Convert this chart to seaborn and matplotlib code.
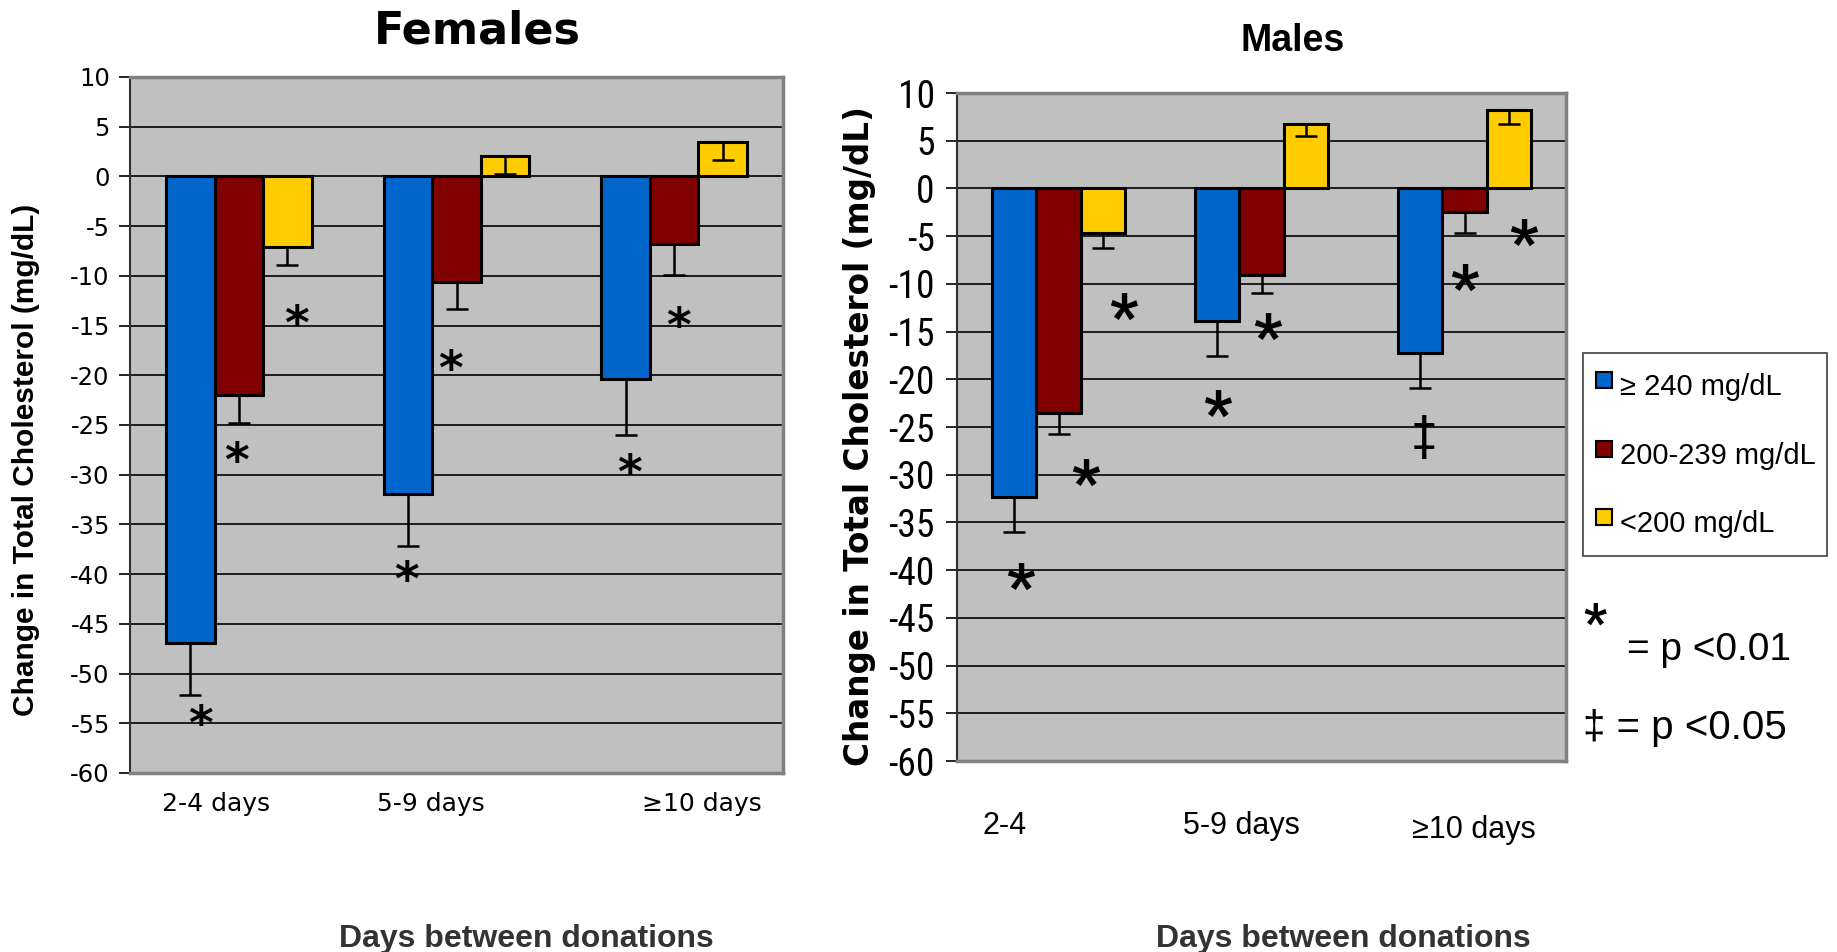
import matplotlib
matplotlib.use("Agg")
import matplotlib.pyplot as plt
from matplotlib import font_manager
from matplotlib.font_manager import FontProperties
from matplotlib.lines import Line2D
from matplotlib.textpath import TextPath
from matplotlib.transforms import ScaledTranslation
import pandas as pd
import seaborn as sns

groups = ["2-4 days", "5-9 days", "≥10 days"]
male_group_labels = ["2-4", "5-9 days", "≥10 days"]
levels = ["≥ 240 mg/dL", "200-239 mg/dL", "<200 mg/dL"]
colors = ["#0066CC", "#800000", "#FFCC00"]

## Females: mean change per cholesterol level, per donation interval
fem_240 = [-46.9, -31.9, -20.4]
fem_200 = [-22.0, -10.6, -6.8]
fem_lt200 = [-7.1, 2.1, 3.5]
fem_240_err = [5.3, 5.3, 5.6]
fem_200_err = [2.8, 2.7, 3.1]
fem_lt200_err = [1.8, 1.9, 1.8]

## Males
male_240 = [-32.3, -13.9, -17.2]
male_200 = [-23.5, -9.1, -2.5]
male_lt200 = [-4.7, 6.7, 8.2]
male_240_err = [3.7, 3.7, 3.7]
male_200_err = [2.2, 1.9, 2.2]
male_lt200_err = [1.5, 1.2, 1.5]

## significance marks (group, level, y, symbol)
fem_mark_group = [0, 0, 0, 1, 1, 2, 2]
fem_mark_level = [0, 1, 2, 0, 1, 0, 1]
fem_mark_y = [-54.2, -27.7, -13.9, -39.7, -18.4, -28.9, -14.1]
fem_mark_sym = ["*"] * 7
fem_mark_dx = [0.046, -0.01, 0.04, -0.008, -0.027, 0.02, 0.02]

male_mark_group = [0, 0, 0, 1, 1, 2, 2, 2]
male_mark_level = [0, 1, 2, 0, 1, 0, 1, 2]
male_mark_y = [-40.7, -29.8, -12.4, -22.6, -14.5, -26.0, -9.4, -4.6]
male_mark_sym = ["*", "*", "*", "*", "*", "‡", "*", "*"]
male_mark_dx = [0.03, 0.13, 0.1, 0.0, 0.03, 0.02, 0.0, 0.07]

yticks = list(range(10, -61, -5))

plt.rcParams["axes.unicode_minus"] = False
ARIAL = "Liberation Sans"
DEJAVU = "DejaVu Sans"


def pick_condensed(bold=False):
    ok_w = (700, "bold") if bold else (400, "normal", "regular", "book")
    found = {}
    for f in font_manager.fontManager.ttflist:
        if f.style != "normal" or f.weight not in ok_w:
            continue
        if f.stretch in ("condensed", "semi-condensed") or "Narrow" in f.name or "Condensed" in f.name:
            found.setdefault(f.name, f.fname)
    for key in ["Liberation Sans Narrow", "Arial Narrow", "Roboto Condensed", "DejaVu Sans",
                "DejaVu Sans Condensed", "Noto Sans", "Noto Sans Condensed", "Open Sans"]:
        if key in found:
            return found[key]
    return next(iter(found.values()), None)


cond_reg = pick_condensed()
cond_bold = pick_condensed(bold=True)
rtick_fp = FontProperties(fname=cond_reg, size=27) if cond_reg else FontProperties(family=ARIAL, size=22)
star_fp_left = FontProperties(family=DEJAVU, weight="bold")
star_fp_right = FontProperties(fname=cond_bold) if cond_bold else FontProperties(family=ARIAL, weight="bold")
dagger_fp = FontProperties(fname=cond_reg) if cond_reg else FontProperties(family=ARIAL)


def long_table(v240, v200, vlt, e240, e200, elt):
    rows = []
    for lev, vals, errs in zip(levels, [v240, v200, vlt], [e240, e200, elt]):
        for g, v, e in zip(groups, vals, errs):
            rows.append({"group": g, "level": lev, "value": v, "err": e})
    return pd.DataFrame(rows)


fem = long_table(fem_240, fem_200, fem_lt200, fem_240_err, fem_200_err, fem_lt200_err)
male = long_table(male_240, male_200, male_lt200, male_240_err, male_200_err, male_lt200_err)

fig = plt.figure(figsize=(18.37, 9.52), dpi=100)
axL = fig.add_axes([130 / 1837, 1 - 773 / 952, 653 / 1837, 696 / 952])
axR = fig.add_axes([957 / 1837, 1 - 761 / 952, 609 / 1837, 668 / 952])


def draw_panel(ax, df, width):
    sns.barplot(data=df, x="group", y="value", hue="level", order=groups, hue_order=levels,
                palette=colors, saturation=1, edgecolor="black", linewidth=2.2, width=width,
                errorbar=None, legend=False, zorder=3, ax=ax)
    centers = {}
    bar_sets = list(ax.containers)
    for i, cont in enumerate(bar_sets):
        for j, bar in enumerate(cont):
            x = bar.get_x() + bar.get_width() / 2
            y = bar.get_y() + bar.get_height()
            centers[(j, i)] = x
            e = df[(df["level"] == levels[i]) & (df["group"] == groups[j])]["err"].iloc[0]
            ax.errorbar(x, y, yerr=[[e], [0]], fmt="none", ecolor="black", elinewidth=1.8,
                        capsize=8, capthick=1.8, zorder=4)
    ax.set_facecolor("#C0C0C0")
    ax.set_ylim(-60, 10)
    ax.set_xlim(-0.5, 2.5)
    ax.set_yticks(yticks)
    ax.yaxis.grid(True, color="black", linewidth=1.2, zorder=0)
    ax.set_axisbelow(True)
    for s in ["top", "right", "bottom"]:
        ax.spines[s].set_color("#808080")
        ax.spines[s].set_linewidth(2.5)
    ax.spines["left"].set_color("#303030")
    ax.spines["left"].set_linewidth(1.5)
    ax.tick_params(axis="y", length=8, width=1.2, color="black")
    ax.tick_params(axis="x", length=0)
    return centers


def mark(ax, sym, xy, fp_base, ink_px, coords="data"):
    # size the glyph so its ink is ink_px tall, and centre the ink on xy
    bb = TextPath((0, 0), sym, size=1, prop=fp_base).get_extents()
    fs = ink_px * 0.72 / bb.height
    fp = fp_base.copy()
    fp.set_size(fs)
    cy = (bb.y0 + bb.y1) / 2 * fs
    ax.annotate(sym, xy, xycoords=coords, xytext=(0, -cy), textcoords="offset points",
                ha="center", va="baseline", fontproperties=fp, zorder=6)


def shift_labels(ax, offsets_px):
    for lab, (dx, dy) in zip(ax.get_xticklabels(), offsets_px):
        lab.set_transform(lab.get_transform() + ScaledTranslation(dx / 100, -dy / 100, fig.dpi_scale_trans))


## Females
cL = draw_panel(axL, fem, 0.67)
for g, l, y, s, dx in zip(fem_mark_group, fem_mark_level, fem_mark_y, fem_mark_sym, fem_mark_dx):
    mark(axL, s, (cL[(g, l)] + dx, y), star_fp_left, 22)
axL.set_xticks(range(3))
axL.set_xticklabels(groups, family=DEJAVU, fontsize=18)
axL.tick_params(axis="x", pad=14)
axL.tick_params(axis="y", pad=6.5)
for t in axL.get_yticklabels():
    t.set_family(DEJAVU)
    t.set_fontsize(17.5)
shift_labels(axL, [(-23, 0), (-26, 0), (28, 0)])
axL.set_title("Females", family=DEJAVU, fontweight="bold", fontsize=32, y=(773 - 39) / 696, va="center")
axL.title.set_x((477 - 130) / 653)
axL.set_ylabel("Change in Total Cholesterol (mg/dL)", family=ARIAL, fontweight="bold", fontsize=21.5)
axL.yaxis.set_label_coords((26 - 130) / 653, (773 - 460) / 696)
axL.yaxis.label.set_va("center")
axL.set_xlabel("Days between donations", family=ARIAL, fontweight="bold", fontsize=23, color="#333333")
axL.xaxis.set_label_coords((526 - 130) / 653, (773 - 939) / 696)
axL.xaxis.label.set_va("center")

## Males
cR = draw_panel(axR, male, 0.66)
for g, l, y, s, dx in zip(male_mark_group, male_mark_level, male_mark_y, male_mark_sym, male_mark_dx):
    if s == "‡":
        mark(axR, s, (cR[(g, l)] + dx, y), dagger_fp, 45)
    else:
        mark(axR, s, (cR[(g, l)] + dx, y), star_fp_right, 27)
axR.set_xticks(range(3))
axR.set_xticklabels(male_group_labels, family=ARIAL, fontsize=22)
axR.tick_params(axis="x", pad=36)
axR.tick_params(axis="y", pad=8)
for t in axR.get_yticklabels():
    t.set_fontproperties(rtick_fp)
shift_labels(axR, [(-54, 0), (-20, 0), (9, 4)])
axR.set_title("Males", family=ARIAL, fontweight="bold", fontsize=27, y=(761 - 49) / 668, va="center")
axR.title.set_x((1293 - 957) / 609)
axR.set_ylabel("Change in Total Cholesterol (mg/dL)", family=DEJAVU, fontweight="bold", fontsize=23.5)
axR.yaxis.set_label_coords((859 - 957) / 609, (761 - 436) / 668)
axR.yaxis.label.set_va("center")
axR.set_xlabel("Days between donations", family=ARIAL, fontweight="bold", fontsize=23, color="#333333")
axR.xaxis.set_label_coords((1343 - 957) / 609, (761 - 939) / 668)
axR.xaxis.label.set_va("center")

## legend and notes
handles = [Line2D([], [], linestyle="none", marker="s", markersize=11.5, markerfacecolor=c,
                  markeredgecolor="black", markeredgewidth=1.5, label=l) for c, l in zip(colors, levels)]
leg = fig.legend(handles=handles, loc="upper left", bbox_to_anchor=(1583 / 1837, 1 - 353 / 952),
                 frameon=True, fancybox=False, edgecolor="#404040", framealpha=1,
                 prop={"family": ARIAL, "size": 21}, handlelength=0.6, handleheight=1.85,
                 handletextpad=0.25, labelspacing=0.9, borderpad=0.41, borderaxespad=0)
leg.get_frame().set_linewidth(1.2)

mark(axR, "*", (1595, 952 - 614), star_fp_right, 22, coords="figure pixels")
fig.text(1709 / 1837, 1 - 650 / 952, "= p <0.01", ha="center", va="center", family=ARIAL, fontsize=28)
fig.text(1583 / 1837, 1 - 728 / 952, "‡ = p <0.05", ha="left", va="center", family=ARIAL, fontsize=29)

fig.savefig("out.png", dpi=100)
